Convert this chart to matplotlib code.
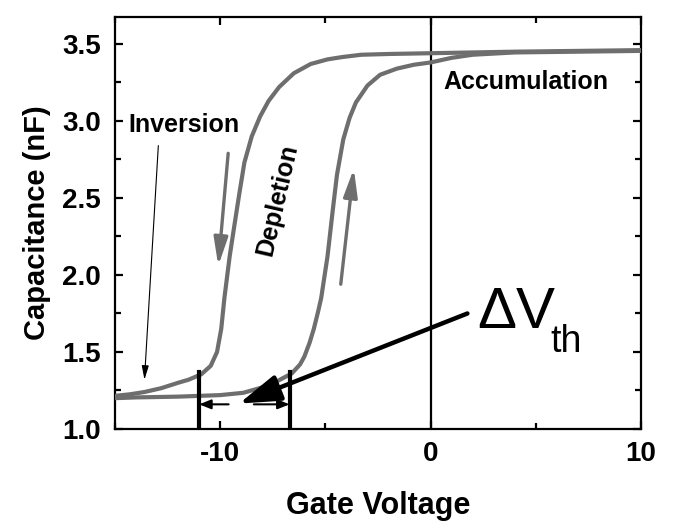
import matplotlib
matplotlib.use("Agg")
import matplotlib.pyplot as plt
from matplotlib.ticker import MultipleLocator, FormatStrFormatter

plt.rcParams["font.family"] = ["Liberation Sans", "DejaVu Sans"]
plt.rcParams["font.weight"] = "bold"
plt.rcParams["axes.unicode_minus"] = False

# down sweep (left branch)
v_down = [10, 7, 4, 2, 0, -2, -3.3, -4.2, -4.9, -5.7, -6.5, -7.2, -7.7, -8.1, -8.5,
          -8.85, -9.1, -9.35, -9.55, -9.8, -9.95, -10.15, -10.45, -10.9, -11.5, -12.0,
          -12.8, -13.6, -14.3, -15]
c_down = [3.46, 3.455, 3.45, 3.445, 3.44, 3.435, 3.43, 3.415, 3.40, 3.37, 3.31, 3.22,
          3.13, 3.03, 2.90, 2.73, 2.52, 2.30, 2.12, 1.85, 1.65, 1.50, 1.41, 1.355, 1.32,
          1.30, 1.265, 1.24, 1.225, 1.215]

# up sweep (right branch)
v_up = [-15, -14, -12, -10, -8.9, -8.0, -7.3, -6.6, -6.2, -6.0, -5.75, -5.55, -5.35,
        -5.2, -4.9, -4.65, -4.45, -4.15, -3.85, -3.55, -3.0, -2.4, -1.6, -0.8, 0, 1, 2,
        4, 7, 10]
c_up = [1.20, 1.205, 1.21, 1.22, 1.235, 1.27, 1.31, 1.36, 1.42, 1.47, 1.56, 1.65, 1.76,
        1.85, 2.12, 2.42, 2.65, 2.88, 3.02, 3.12, 3.23, 3.30, 3.34, 3.365, 3.38, 3.41,
        3.43, 3.445, 3.45, 3.455]

vth_left = -11.0
vth_right = -6.7
vth_top = 1.37

grey = "#6e6e6e"

fig = plt.figure(figsize=(6.78, 5.27), dpi=100)
ax = fig.add_axes([0.1696, 0.186, 0.7758, 0.7817])

ax.plot(v_down, c_down, color=grey, lw=3.0, solid_capstyle="round", zorder=3)
ax.plot(v_up, c_up, color=grey, lw=3.0, solid_capstyle="round", zorder=3)

ax.axvline(0, color="black", lw=1.6, zorder=2)
ax.plot([vth_left, vth_left], [1.0, vth_top], color="black", lw=3.0, zorder=4)
ax.plot([vth_right, vth_right], [1.0, vth_top], color="black", lw=3.0, zorder=4)

# small arrows between the threshold lines
ax.annotate("", xy=(vth_left, 1.16), xytext=(-9.6, 1.16),
            arrowprops=dict(arrowstyle="-|>,head_length=0.5,head_width=0.2",
                            color="black", lw=1.5, shrinkA=0, shrinkB=0, mutation_scale=14))
ax.annotate("", xy=(vth_right, 1.16), xytext=(-8.4, 1.16),
            arrowprops=dict(arrowstyle="-|>,head_length=0.5,head_width=0.2",
                            color="black", lw=1.5, shrinkA=0, shrinkB=0, mutation_scale=14))

# big arrow from the delta V label
ax.annotate("", xy=(-9.1, 1.165), xytext=(1.75, 1.75),
            arrowprops=dict(arrowstyle="-|>,head_length=1.4,head_width=0.45",
                            color="black", lw=3.2, shrinkA=0, shrinkB=0, mutation_scale=18))
ax.text(2.2, 1.655, "ΔV", fontsize=42, fontweight="normal", ha="left", va="baseline")
ax.text(5.7, 1.50, "th", fontsize=27, fontweight="normal", ha="left", va="baseline")

# sweep direction arrows
ax.annotate("", xy=(-10.09, 2.06), xytext=(-9.62, 2.79),
            arrowprops=dict(arrowstyle="-|>,head_length=1.4,head_width=0.35",
                            color=grey, lw=2.4, shrinkA=0, shrinkB=0, mutation_scale=12))
ax.annotate("", xy=(-3.65, 2.69), xytext=(-4.27, 1.94),
            arrowprops=dict(arrowstyle="-|>,head_length=1.4,head_width=0.35",
                            color=grey, lw=2.4, shrinkA=0, shrinkB=0, mutation_scale=12))

# inversion pointer
ax.annotate("", xy=(-13.6, 1.32), xytext=(-12.94, 2.84),
            arrowprops=dict(arrowstyle="-|>,head_length=0.6,head_width=0.15",
                            color="black", lw=0.8, shrinkA=0, shrinkB=0, mutation_scale=14))

ax.text(-14.35, 2.93, "Inversion", fontsize=18, fontweight="bold", ha="left", va="baseline")
ax.text(0.6, 3.21, "Accumulation", fontsize=18, fontweight="bold", ha="left", va="baseline")
ax.text(-7.3, 2.49, "Depletion", fontsize=18, fontweight="bold", rotation=77,
        ha="center", va="center")

ax.set_xlim(-15, 10)
ax.set_ylim(1.0, 3.675)
ax.xaxis.set_major_locator(MultipleLocator(10))
ax.xaxis.set_minor_locator(MultipleLocator(5))
ax.yaxis.set_major_locator(MultipleLocator(0.5))
ax.yaxis.set_minor_locator(MultipleLocator(0.25))
ax.yaxis.set_major_formatter(FormatStrFormatter("%.1f"))
ax.tick_params(which="both", direction="in", top=True, right=True, width=1.6,
               labelsize=20)
ax.tick_params(axis="x", pad=9)
ax.tick_params(axis="y", pad=10)
ax.tick_params(which="major", length=6)
ax.tick_params(which="minor", length=4)
for lbl in ax.get_xticklabels() + ax.get_yticklabels():
    lbl.set_fontweight("bold")
for s in ax.spines.values():
    s.set_linewidth(1.6)

ax.set_xlabel("Gate Voltage", fontsize=22, fontweight="bold", labelpad=17)
ax.set_ylabel("Capacitance (nF)", fontsize=21, fontweight="bold", labelpad=8)

fig.savefig("out.png", dpi=100)
